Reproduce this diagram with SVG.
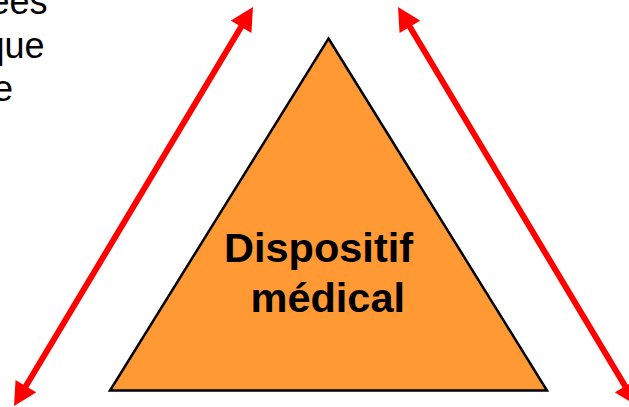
<svg xmlns="http://www.w3.org/2000/svg" width="629" height="407" viewBox="0 0 629 407">
  <style>
    .side { font-family: "Liberation Sans", Arial, sans-serif; font-size: 36px; fill: #000000; }
    .label { font-family: "Liberation Sans", Arial, sans-serif; font-size: 41.5px; font-weight: bold; fill: #000000; }
    .arrow { stroke: #FF0000; stroke-width: 6; fill: none; marker-start: url(#head); marker-end: url(#head); }
  </style>
  <defs>
    <marker id="head" markerUnits="userSpaceOnUse" markerWidth="24" markerHeight="24" viewBox="0 0 23 24" refX="3" refY="12" orient="auto-start-reverse">
      <path d="M0,0 L23,12 L0,24 z" fill="#FF0000"/>
    </marker>
  </defs>
  <rect width="629" height="407" fill="#FFFFFF"/>
  <g id="side-text">
    <text class="side" x="47.5" y="14" text-anchor="end">ées</text>
    <text class="side" x="44.5" y="58" text-anchor="end">que</text>
    <text class="side" x="13" y="101" text-anchor="end">e</text>
  </g>
  <g id="connectors">
    <line class="arrow" x1="242.7" y1="24.2" x2="24.3" y2="388.8"/>
    <line class="arrow" x1="408.3" y1="24.2" x2="626.7" y2="388.8"/>
  </g>
  <g id="dispositif">
    <polygon points="328.5,38.5 547,390.5 110,390.5" fill="#FF9933" stroke="#000000" stroke-width="2.5" stroke-linejoin="miter"/>
    <text class="label" x="224" y="262">Dispositif</text>
    <text class="label" x="250.5" y="312">médical</text>
  </g>
</svg>
